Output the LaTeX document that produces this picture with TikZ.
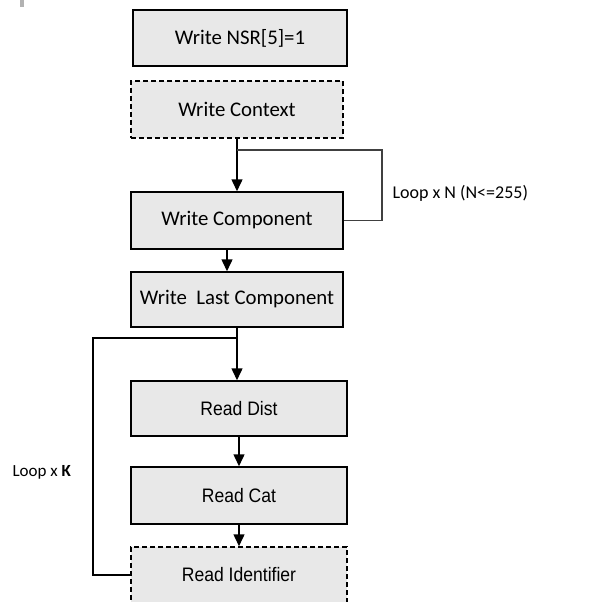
\documentclass[tikz,border=0pt]{standalone}
\usepackage{fontspec}
\setmainfont{Carlito}
\newfontfamily\arialfont[FakeStretch=0.9]{Liberation Sans}
\usetikzlibrary{arrows.meta}

\tikzset{
    kasten/.style={draw, line width=1.5pt, fill=black!9, minimum width=212pt,
        minimum height=56pt, inner sep=0pt, font=\fontsize{20.8}{25}\selectfont},
    kastenstrich/.style={kasten, dashed, dash pattern=on 5pt off 3pt},
    lesen/.style={font=\arialfont\fontsize{19.5}{23}\selectfont},
    pfeil/.style={line width=1.5pt, -{Triangle[width=11pt,length=12pt]}},
    linie/.style={line width=1.5pt},
    schleife/.style={line width=1.5pt, draw=black!75},
}

\begin{document}
\begin{tikzpicture}[x=1pt,y=1pt]
            % Bildrahmen
            \useasboundingbox (0,0) rectangle (591,-602);
            \fill[black!30] (20,0) rectangle (24,-7);

            % Schreibteil
            \node[kasten, minimum width=214pt] (nsr) at (240,-38) {Write NSR[5]=1};
            \node[kastenstrich, minimum height=57pt] (ctx) at (237,-109.5) {Write Context};
            \node[kasten, minimum height=57pt] (comp) at (237,-220.5) {Write Component};
            \node[kasten, minimum height=55pt] (lastcomp) at (237,-299.5) {Write\ \ Last Component};

            % Leseteil
            \node[kasten, lesen, minimum width=216pt, minimum height=55pt] (dist) at (239,-408.5) {Read Dist};
            \node[kasten, lesen, minimum width=216pt, minimum height=57pt] (cat) at (239,-495.5) {Read Cat};
            \node[kastenstrich, lesen, minimum width=216pt] (ident) at (239,-575) {Read Identifier};

            % Pfeile
            \draw[pfeil] (ctx.south) -- (ctx.south |- comp.north);
            \draw[pfeil] ([xshift=-10pt]comp.south) -- ([xshift=-10pt]comp.south |- lastcomp.north);
            \draw[pfeil] (lastcomp.south) -- (lastcomp.south |- dist.north);
            \draw[pfeil] (dist.south) -- (cat.north);
            \draw[pfeil] (cat.south) -- (ident.north);

            % Schleifen
            \coordinate (knotenN) at (237,-150);
            \coordinate (eckeN) at (382,-150);
            \draw[schleife] (comp.east) -| (eckeN) -- (knotenN);
            \node[anchor=west, font=\fontsize{18}{21}\selectfont] (loopN) at (389,-193) {Loop x N (N<=255)};

            \coordinate (knotenK) at (237,-338);
            \coordinate (eckeK) at (93,-338);
            \draw[linie] (ident.west) -| (eckeK) -- (knotenK);
            \node[anchor=west, font=\fontsize{17}{20}\selectfont] (loopK) at (9,-472) {Loop x \textbf{K}};
\end{tikzpicture}
\end{document}
